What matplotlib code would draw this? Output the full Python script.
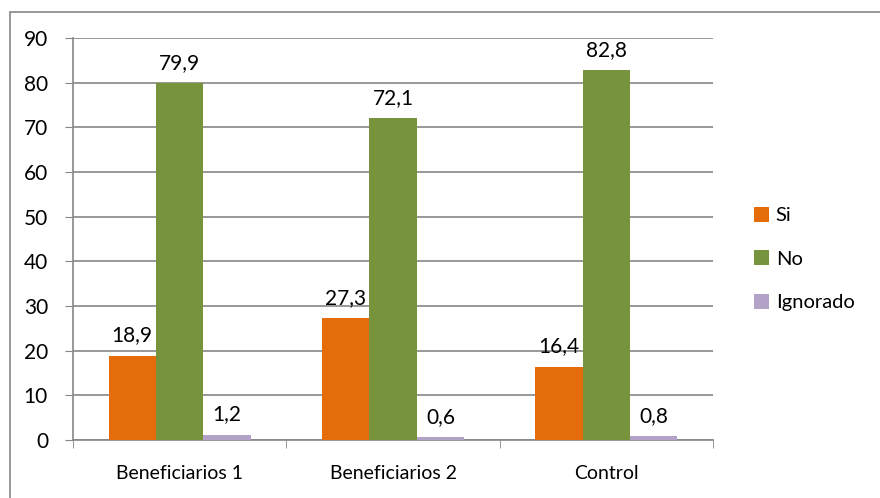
import matplotlib
matplotlib.use('Agg')
import matplotlib.pyplot as plt
import numpy as np
from matplotlib.patches import Rectangle

categorias = ['Beneficiarios 1', 'Beneficiarios 2', 'Control']
series = ['Si', 'No', 'Ignorado']
si = [18.9, 27.3, 16.4]
no = [79.9, 72.1, 82.8]
ignorado = [1.2, 0.6, 0.8]
colores = ['#E46C0A', '#77933C', '#B3A2C7']

plt.rcParams['font.family'] = ['Lato', 'DejaVu Sans']

fig = plt.figure(figsize=(8.8, 4.98), dpi=100)
# recuadro exterior del grafico
fig.patches.append(Rectangle((10 / 880, -0.1), 1.0, (498 - 12) / 498 + 0.1,
                             transform=fig.transFigure, fill=False,
                             edgecolor='#868686', linewidth=1.2))
ax = fig.add_axes([73 / 880, 1 - 440 / 498, (713 - 73) / 880, (440 - 38) / 498])

x = np.arange(len(categorias))
ancho = 1 / 4.5
for i, (nombre, valores) in enumerate(zip(series, [si, no, ignorado])):
    pos = x + (i - 1) * ancho
    ax.bar(pos, valores, ancho, color=colores[i], label=nombre, zorder=3)
    for p, v in zip(pos, valores):
        ax.text(p, v + 2.3, str(v).replace('.', ','), ha='center', va='bottom',
                fontsize=15, color='black')

ax.set_xlim(-0.5, 2.5)
ax.set_ylim(0, 90)
ax.set_yticks(range(0, 91, 10))
ax.set_xticks([-0.5, 0.5, 1.5, 2.5], minor=True)
ax.set_xticks(x)
ax.set_xticklabels(categorias, fontsize=14)
ax.tick_params(axis='x', which='major', length=0, pad=18)
ax.tick_params(axis='x', which='minor', length=6, color='#868686', direction='out')
ax.tick_params(axis='y', labelsize=15, length=6, color='#868686', pad=12)
ax.grid(axis='y', color='#868686', linewidth=1.2, zorder=0)
for lado in ['top', 'right']:
    ax.spines[lado].set_visible(False)
for lado in ['left', 'bottom']:
    ax.spines[lado].set_color('#868686')
    ax.spines[lado].set_linewidth(1.2)
ax.spines['left'].set_zorder(4)

ax.legend(loc='center left', bbox_to_anchor=(1.035, 0.45), frameon=False,
          fontsize=14.5, handlelength=0.75, handleheight=0.75, handletextpad=0.35,
          labelspacing=1.3)

fig.savefig('out.png', dpi=100)
